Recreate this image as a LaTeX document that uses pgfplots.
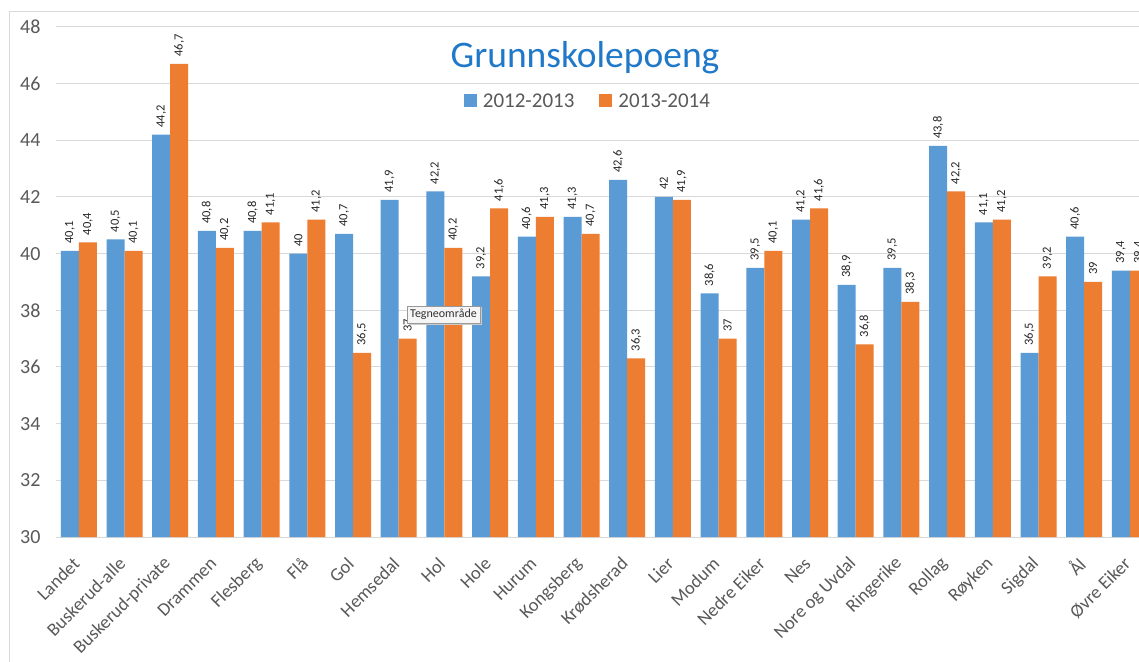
\documentclass[border=0pt]{standalone}
\usepackage{pgfplots}
\pgfplotsset{compat=1.18}
\usepackage{fontspec}
\setmainfont{Carlito}
\definecolor{cblue}{HTML}{5B9BD5}
\definecolor{corange}{HTML}{ED7D31}
\definecolor{ctitle}{HTML}{1F78C8}
\definecolor{ctext}{HTML}{595959}
\definecolor{cgrid}{HTML}{D9D9D9}
\begin{document}
\begin{tikzpicture}[x=1pt,y=1pt]
\useasboundingbox (0,0) rectangle (1139,661);
\clip (0,0) rectangle (1139,661);
\fill[white] (0,0) rectangle (1139,661);
\draw[cgrid, line width=1pt] (9,-20) rectangle (1250,649);
\begin{axis}[
  at={(56pt,124pt)}, anchor=south west,
  scale only axis, width=1083pt, height=510pt,
  ybar=0pt, bar width=18pt,
  xmin=-0.5, xmax=23.2, ymin=30, ymax=48,
  ytick={30,32,...,48},
  xtick={0,...,23},
  xticklabels={Landet,Buskerud-alle,Buskerud-private,Drammen,Flesberg,Flå,Gol,Hemsedal,Hol,Hole,Hurum,Kongsberg,Krødsherad,Lier,Modum,Nedre Eiker,Nes,Nore og Uvdal,Ringerike,Rollag,Røyken,Sigdal,Ål,Øvre Eiker},
  axis lines*=left,
  y axis line style={draw=none},
  x axis line style={-, draw=cgrid, line width=1pt},
  tick style={draw=none},
  ymajorgrids, grid style={cgrid, line width=1pt},
  yticklabel style={font=\fontsize{20}{21}\selectfont, text=ctext, anchor=east, xshift=-12pt},
  xticklabel style={font=\fontsize{18.5}{20}\selectfont, text=ctext, xshift=0pt, yshift=-17pt, rotate=45, anchor=east},
  /pgf/number format/.cd, use comma, assume math mode=true, /pgfplots/.cd,
  nodes near coords,
  every node near coord/.append style={rotate=90, anchor=west, inner xsep=7pt, inner ysep=0pt, font=\fontsize{12.5}{13}\selectfont, text=black!85},
  legend columns=2,
  legend style={at={(0.493,0.855)}, anchor=center, draw=none, fill=none, font=\fontsize{21}{22}\selectfont, text=ctext,
    /tikz/every even column/.append style={column sep=19pt},
    nodes={inner xsep=6pt}},
  legend image code/.code={\fill[#1] (0pt,-6.5pt) rectangle (13pt,6.5pt);},
]
\addplot[fill=cblue, draw=none] coordinates {
(0,40.1) (1,40.5) (2,44.2) (3,40.8) (4,40.8) (5,40) (6,40.7) (7,41.9) (8,42.2) (9,39.2) (10,40.6) (11,41.3) (12,42.6) (13,42) (14,38.6) (15,39.5) (16,41.2) (17,38.9) (18,39.5) (19,43.8) (20,41.1) (21,36.5) (22,40.6) (23,39.4)};
\addplot[fill=corange, draw=none] coordinates {
(0,40.4) (1,40.1) (2,46.7) (3,40.2) (4,41.1) (5,41.2) (6,36.5) (7,37) (8,40.2) (9,41.6) (10,41.3) (11,40.7) (12,36.3) (13,41.9) (14,37) (15,40.1) (16,41.6) (17,36.8) (18,38.3) (19,42.2) (20,41.2) (21,39.2) (22,39) (23,39.4)};
\legend{2012-2013,2013-2014}
\end{axis}
\node[text=ctitle, font=\fontsize{37.5}{40}\selectfont] at (585,603) {Grunnskolepoeng};
\fill[black!20] (409,336) rectangle (482,354);
\node[draw=gray!80, fill=black!4, text=black!80, minimum width=73pt, minimum height=17pt, inner sep=0pt, font=\fontsize{12}{13}\selectfont] at (443.5,346.5) {Tegneområde};
\end{tikzpicture}
\end{document}
